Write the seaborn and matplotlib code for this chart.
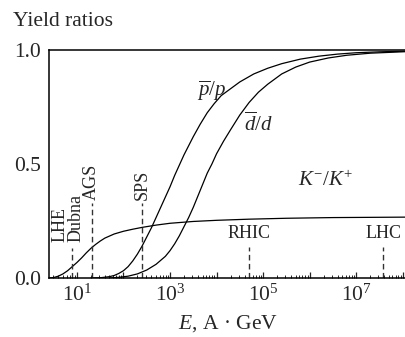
import numpy as np
import pandas as pd
import matplotlib
matplotlib.use("Agg")
import matplotlib.pyplot as plt
import matplotlib.ticker as mticker
import seaborn as sns

# log10(E / A GeV) positions, with the ratio at each
pbar_logE = [1.3, 1.5, 1.7, 1.8, 1.9, 2.0, 2.1, 2.2, 2.3, 2.4, 2.5, 2.6, 2.7,
             2.8, 2.9, 3.0, 3.1, 3.2, 3.3, 3.4, 3.5, 3.65, 3.8, 3.95, 4.1,
             4.3, 4.5, 4.8, 5.1, 5.4, 5.8, 6.2, 6.6, 7.0, 7.5, 8.1]
pbar_vals = [0.0, 0.001, 0.006, 0.011, 0.02, 0.032, 0.05, 0.075, 0.105, 0.14,
             0.18, 0.22, 0.265, 0.31, 0.355, 0.40, 0.45, 0.495, 0.54, 0.58,
             0.62, 0.675, 0.725, 0.765, 0.80, 0.83, 0.86, 0.895, 0.92, 0.94,
             0.96, 0.973, 0.982, 0.988, 0.992, 0.995]

dbar_logE = [1.7, 1.9, 2.1, 2.3, 2.5, 2.7, 2.9, 3.0, 3.1, 3.2, 3.3, 3.4, 3.5,
             3.6, 3.7, 3.8, 3.9, 4.0, 4.15, 4.3, 4.5, 4.7, 4.9, 5.1, 5.4,
             5.7, 6.0, 6.4, 6.8, 7.3, 8.1]
dbar_vals = [0.0, 0.003, 0.008, 0.018, 0.035, 0.06, 0.095, 0.12, 0.15, 0.185,
             0.225, 0.265, 0.31, 0.36, 0.41, 0.46, 0.50, 0.545, 0.60, 0.65,
             0.715, 0.77, 0.815, 0.85, 0.895, 0.925, 0.947, 0.965, 0.977,
             0.986, 0.993]

kaon_logE = [0.4, 0.5, 0.6, 0.7, 0.8, 0.9, 1.0, 1.1, 1.2, 1.3, 1.4, 1.5, 1.6,
             1.8, 2.0, 2.2, 2.4, 2.7, 3.0, 3.5, 4.0, 4.7, 5.5, 6.5, 8.1]
kaon_vals = [0.0, 0.002, 0.008, 0.018, 0.032, 0.05, 0.068, 0.088, 0.11, 0.13,
             0.147, 0.162, 0.175, 0.193, 0.205, 0.214, 0.222, 0.232, 0.24,
             0.248, 0.253, 0.258, 0.262, 0.265, 0.267]

# accelerators: log10 E of the dashed marker and its top
acc_names = ["LHE/Dubna", "AGS", "SPS", "RHIC", "LHC"]
acc_logE = [0.89, 1.32, 2.4, 4.7, 7.58]
acc_tops = [0.13, 0.33, 0.33, 0.135, 0.135]

sns.set_style("ticks")
plt.rcParams["font.family"] = ["Liberation Serif", "DejaVu Serif"]
plt.rcParams["mathtext.fontset"] = "custom"
plt.rcParams["mathtext.rm"] = "Liberation Serif"
plt.rcParams["mathtext.it"] = "Liberation Serif:italic"
plt.rcParams["mathtext.bf"] = "Liberation Serif:bold"

fig = plt.figure(figsize=(4.06, 3.37), dpi=100)
ax = fig.add_axes([49 / 406, 59 / 337, 357 / 406, 228 / 337])

curves = [(pbar_logE, pbar_vals), (dbar_logE, dbar_vals), (kaon_logE, kaon_vals)]
for lx, vals in curves:
    df = pd.DataFrame({"E": 10.0 ** np.array(lx), "ratio": vals})
    sns.lineplot(data=df, x="E", y="ratio", color="black", lw=0.9, ax=ax,
                 sort=False)

for name, lx, top in zip(acc_names, acc_logE, acc_tops):
    ax.plot([10 ** lx, 10 ** lx], [0, top], color="#333333", lw=1.0,
            ls=(0, (4, 2.5)))

ax.set_xscale("log")
ax.set_xlim(10 ** 0.40, 10 ** 8.07)
ax.set_ylim(0, 1.0)

# rotated labels
ax.text(10 ** 0.63, 0.16, "LHE", rotation=90, ha="center", va="bottom",
        fontsize=13)
ax.text(10 ** 0.99, 0.16, "Dubna", rotation=90, ha="center",
        va="bottom", fontsize=13)
ax.text(10 ** 1.32, 0.34, "AGS", rotation=90, ha="center", va="bottom",
        fontsize=13)
ax.text(10 ** 2.4, 0.34, "SPS", rotation=90, ha="center", va="bottom",
        fontsize=13)
ax.text(10 ** 4.7, 0.197, "RHIC", ha="center", va="center", fontsize=13)
ax.text(10 ** 7.58, 0.197, "LHC", ha="center", va="center", fontsize=13)

ax.text(10 ** 3.9, 0.82, r"$\overline{p}/p$", ha="center", va="center",
        fontsize=15)
ax.text(10 ** 4.89, 0.675, r"$\overline{d}/d$", ha="center", va="center",
        fontsize=15)
ax.text(10 ** 6.33, 0.425, r"$K^{-}/K^{+}$", ha="center", va="center",
        fontsize=15)

major = [10.0 ** k for k in range(1, 9)]
ax.set_xticks(major)
ax.set_xticklabels([rf"$10^{{{k}}}$" if k % 2 == 1 else "" for k in range(1, 9)])
ax.xaxis.set_minor_locator(mticker.LogLocator(base=10, subs=np.arange(2, 10),
                                              numticks=20))
ax.xaxis.set_minor_formatter(mticker.NullFormatter())
ax.set_yticks([0, 0.5, 1.0])
ax.set_yticklabels(["0.0", "0.5", "1.0"])
ax.tick_params(axis="both", which="major", direction="in", length=4,
               width=0.9, labelsize=15.5, pad=5)
ax.tick_params(axis="x", which="minor", direction="in", length=2.2, width=0.7)
ax.tick_params(axis="y", which="major", length=0, pad=6)

ax.spines["right"].set_visible(False)
for s in ["left", "bottom", "top"]:
    ax.spines[s].set_linewidth(1.1)
    ax.spines[s].set_color("black")

ax.set_xlabel(r"$E$, A · GeV", fontsize=15.5, labelpad=5)
ax.set_ylabel("")
fig.text(13 / 406, 1 - 22 / 337, "Yield ratios", fontsize=15.5, ha="left",
         va="center")

fig.savefig("out.png", dpi=100)
